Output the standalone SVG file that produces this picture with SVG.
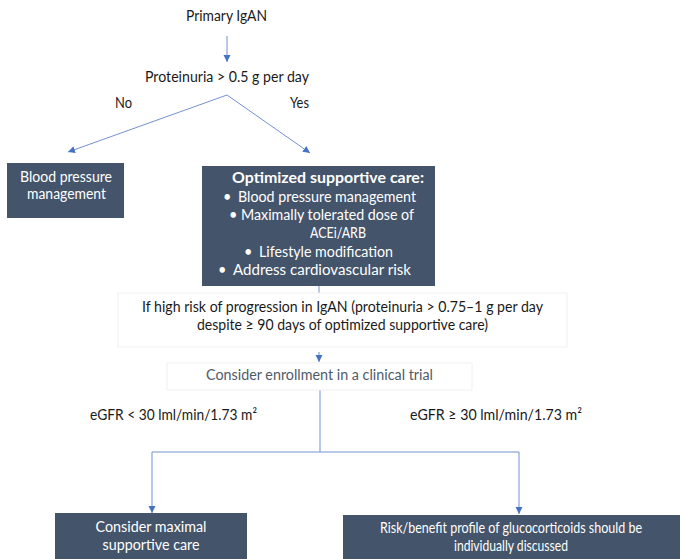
<svg xmlns="http://www.w3.org/2000/svg" width="686" height="559" viewBox="0 0 686 559">
<style>
text{font-family:Lato,"Open Sans","Liberation Sans",sans-serif;font-size:14.5px;fill:#1a1a1a}
.w{fill:#ffffff}
.b{font-weight:bold}
.g{fill:#4f5b6b}
.box{fill:#44546a}
.lite{fill:#ffffff;stroke:#f0f0f0;stroke-width:1}
.c{fill:none;stroke:#7391cf;stroke-width:1}
.m{text-anchor:middle}
</style>
<defs>
<marker id="ah" markerUnits="userSpaceOnUse" markerWidth="8" markerHeight="8" refX="7" refY="3.5" orient="auto">
<path d="M0,0 L7,3.5 L0,7 z" fill="#4472c4"/>
</marker>
</defs>
<rect width="686" height="559" fill="#ffffff"/>
<g id="connectors">
<line class="c" x1="227" y1="36" x2="227" y2="62" marker-end="url(#ah)"/>
<polyline class="c" points="227,95 68,152" marker-end="url(#ah)"/>
<polyline class="c" points="227,95 310,153" marker-end="url(#ah)"/>
<line class="c" x1="319" y1="286" x2="319" y2="293"/>
<line class="c" x1="319" y1="352" x2="319" y2="362" marker-end="url(#ah)"/>
<polyline class="c" points="320,390 320,452 152,452 152,513" marker-end="url(#ah)"/>
<polyline class="c" points="320,452 519,452 519,514" marker-end="url(#ah)"/>
</g>
<g id="primary">
<text x="186" y="21" textLength="81" lengthAdjust="spacingAndGlyphs">Primary IgAN</text>
</g>
<g id="proteinuria">
<text x="145" y="82" textLength="164" lengthAdjust="spacingAndGlyphs">Proteinuria &gt; 0.5 g per day</text>
</g>
<g id="label-no"><text x="115" y="108" textLength="17" lengthAdjust="spacingAndGlyphs">No</text></g>
<g id="label-yes"><text x="290" y="108" textLength="19" lengthAdjust="spacingAndGlyphs">Yes</text></g>
<g id="bp">
<rect class="box" x="7" y="163" width="117" height="55"/>
<text class="w" x="20" y="182" textLength="92" lengthAdjust="spacingAndGlyphs">Blood pressure</text>
<text class="w" x="27" y="199" textLength="79" lengthAdjust="spacingAndGlyphs">management</text>
</g>
<g id="optimized">
<rect class="box" x="202" y="166" width="233" height="120"/>
<text class="w b" x="232" y="183" textLength="192" lengthAdjust="spacingAndGlyphs">Optimized supportive care:</text>
<text class="w" x="223" y="202">•</text>
<text class="w" x="238" y="202" textLength="178" lengthAdjust="spacingAndGlyphs">Blood pressure management</text>
<text class="w" x="229" y="220">•</text>
<text class="w" x="241" y="220" textLength="173" lengthAdjust="spacingAndGlyphs">Maximally tolerated dose of</text>
<text class="w m" x="338" y="238" textLength="56" lengthAdjust="spacingAndGlyphs">ACEi/ARB</text>
<text class="w" x="244" y="257">•</text>
<text class="w" x="259" y="257" textLength="134" lengthAdjust="spacingAndGlyphs">Lifestyle modification</text>
<text class="w" x="218" y="275">•</text>
<text class="w" x="233" y="275" textLength="178" lengthAdjust="spacingAndGlyphs">Address cardiovascular risk</text>
</g>
<g id="highrisk">
<rect class="lite" x="118" y="293" width="449" height="54"/>
<text x="142" y="312" textLength="401" lengthAdjust="spacingAndGlyphs">If high risk of progression in IgAN (proteinuria &gt; 0.75–1 g per day</text>
<text x="197" y="330" textLength="291" lengthAdjust="spacingAndGlyphs">despite ≥ 90 days of optimized supportive care)</text>
</g>
<g id="trial">
<rect class="lite" x="167" y="363" width="305" height="27"/>
<text class="g" x="206" y="380" textLength="227" lengthAdjust="spacingAndGlyphs">Consider enrollment in a clinical trial</text>
</g>
<g id="label-low">
<text x="90" y="420" textLength="167" lengthAdjust="spacingAndGlyphs">eGFR &lt; 30 lml/min/1.73 m²</text>
</g>
<g id="label-high">
<text x="410" y="420" textLength="172" lengthAdjust="spacingAndGlyphs">eGFR ≥ 30 lml/min/1.73 m²</text>
</g>
<g id="maximal">
<rect class="box" x="55" y="513" width="192" height="50"/>
<text class="w m" x="151" y="532" textLength="111" lengthAdjust="spacingAndGlyphs">Consider maximal</text>
<text class="w m" x="151" y="550" textLength="97" lengthAdjust="spacingAndGlyphs">supportive care</text>
</g>
<g id="risk">
<rect class="box" x="343" y="515" width="337" height="48"/>
<text class="w m" x="511" y="533" textLength="262" lengthAdjust="spacingAndGlyphs">Risk/benefit profile of glucocorticoids should be</text>
<text class="w m" x="511" y="551" textLength="114" lengthAdjust="spacingAndGlyphs">individually discussed</text>
</g>
</svg>
